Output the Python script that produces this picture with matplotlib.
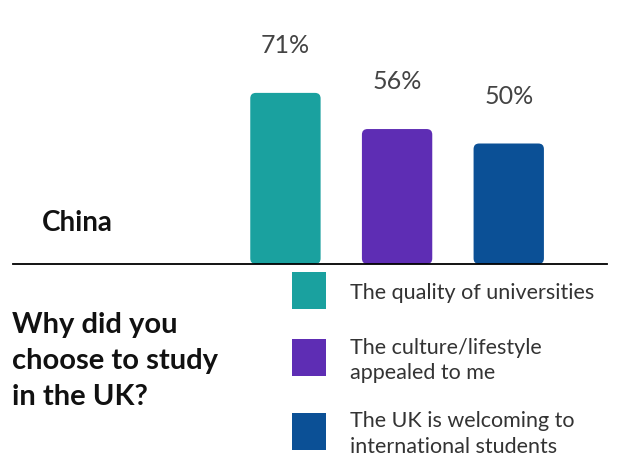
import matplotlib
matplotlib.use("Agg")
import matplotlib.pyplot as plt
from matplotlib.patches import FancyBboxPatch, Rectangle

reasons = ["The quality of universities",
           "The culture/lifestyle\nappealed to me",
           "The UK is welcoming to\ninternational students"]
shares = [71, 56, 50]
colors = ["#1aa19f", "#5e2db4", "#0b5096"]
country = "China"
question = "Why did you\nchoose to study\nin the UK?"

W, H = 624, 470
fig = plt.figure(figsize=(W / 100, H / 100), dpi=100)
fig.patch.set_facecolor("white")

# axes spans the baseline (x 13..607 px, y 0..264 px)
ax = fig.add_axes([13 / W, 1 - 264 / H, (607 - 13) / W, 264 / H])
ax.set_xlim(-2.44, 2.88)
ax.set_ylim(0, 264 / 2.41)
ax.axis("off")

bars = ax.bar(range(len(shares)), shares, width=0.63, color=colors)
aspect = (ax.get_position().width * W / 5.32) / 2.41
for b, c in zip(bars, colors):
    b.set_visible(False)
    ax.add_patch(FancyBboxPatch((b.get_x(), b.get_y()), b.get_width(), b.get_height(),
                                boxstyle="round,pad=0,rounding_size=0.05",
                                mutation_aspect=aspect, fc=c, ec="none"))
    ax.annotate(f"{int(b.get_height())}%", (b.get_x() + b.get_width() / 2, b.get_height()),
                xytext=(0, 34), textcoords="offset points", ha="center", va="center",
                fontsize=18, color="#444444", family="Lato", weight="normal")

ax.axhline(0, color="black", lw=1.3, clip_on=False, zorder=5)

fig.text(42 / W, 1 - 223 / H, country, fontsize=20, weight="bold", family="Lato",
         va="center", ha="left", color="#111111")
fig.text(12 / W, 1 - 361 / H, question, fontsize=21, weight="bold", family="Lato",
         va="center", ha="left", color="#111111", linespacing=1.48)

# legend squares and labels
sq_top = [272, 339, 413]
text_y = [293, 360.5, 434]
for c, t, y0, ty in zip(colors, reasons, sq_top, text_y):
    fig.patches.append(Rectangle((292 / W, 1 - (y0 + 37) / H), 34 / W, 37 / H,
                                 transform=fig.transFigure, fc=c, ec="none"))
    fig.text(350 / W, 1 - ty / H, t, fontsize=15.5, family="Lato", weight="normal",
             color="#333333", va="center", ha="left", linespacing=1.35)

fig.savefig("out.png", dpi=100)
